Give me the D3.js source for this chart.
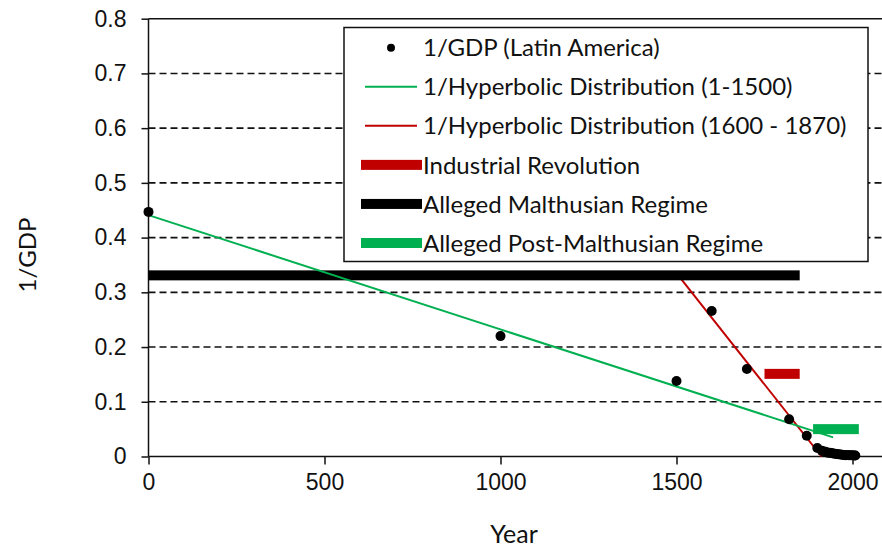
<!DOCTYPE html>
<html>
<head>
<meta charset="utf-8">
<script src="https://cdn.jsdelivr.net/npm/d3@7"></script>
<style>
  body { margin: 0; background: #fff; }
  svg { font-family: Lato, "Open Sans", sans-serif; }
</style>
</head>
<body>
<div id="plot"></div>
<script>
// observed 1/GDP values for Latin America
var years = [0, 1000, 1500, 1600, 1700, 1820, 1870, 1900, 1913, 1920, 1925, 1929, 1935, 1940, 1945, 1950, 1955, 1960, 1965, 1970, 1975, 1980, 1985, 1990, 1995, 2000, 2005, 2008];
var invGdp = [0.447, 0.22, 0.138, 0.266, 0.16, 0.068, 0.038, 0.0155, 0.0105, 0.009, 0.008, 0.007, 0.0068, 0.0062, 0.0055, 0.005, 0.0045, 0.004, 0.0036, 0.0032, 0.0028, 0.0025, 0.0026, 0.0025, 0.0023, 0.0021, 0.0019, 0.0017];

// fitted lines (1/hyperbolic is a straight line)
var greenFitYears = [0, 1945];
var greenFitValues = [0.441, 0.035];
var redFitYears = [1500, 1912];
var redFitValues = [0.335, 0];

// regime bars: [start, end, level]
var industrialRev = [1750, 1850, 0.151];
var malthusian = [0, 1850, 0.331];
var postMalthusian = [1888, 2018, 0.05];

var xTicks = [0, 500, 1000, 1500, 2000];
var yTicks = [0, 0.1, 0.2, 0.3, 0.4, 0.5, 0.6, 0.7, 0.8];

var legendLabels = [
  "1/GDP (Latin America)",
  "1/Hyperbolic Distribution (1-1500)",
  "1/Hyperbolic Distribution (1600 - 1870)",
  "Industrial Revolution",
  "Alleged Malthusian Regime",
  "Alleged Post-Malthusian Regime"
];

var green = "#00b050", red = "#c00000";

var svg = d3.select("#plot").append("svg")
  .attr("width", 882)
  .attr("height", 550);

var x = d3.scaleLinear().domain([0, 2000]).range([148.5, 852.5]);
var y = d3.scaleLinear().domain([0, 0.8]).range([456.5, 18.7]);
var right = 882;

// dashed gridlines
svg.append("g")
  .selectAll("line")
  .data(yTicks.filter(function (d) { return d > 0 && d < 0.8; }))
  .join("line")
  .attr("x1", x(0)).attr("x2", right)
  .attr("y1", d => y(d)).attr("y2", d => y(d))
  .attr("stroke", "#111")
  .attr("stroke-width", 1.6)
  .attr("stroke-dasharray", "7,4");

// top border of plot area
svg.append("line")
  .attr("x1", x(0)).attr("x2", right)
  .attr("y1", y(0.8)).attr("y2", y(0.8))
  .attr("stroke", "#111").attr("stroke-width", 1.5);

// axes
var yAxis = svg.append("g")
  .attr("transform", `translate(${x(0)},0)`)
  .call(d3.axisLeft(y).tickValues(yTicks).tickSize(7).tickPadding(15)
    .tickFormat(d => d === 0 ? "0" : d3.format(".1f")(d)));
var xAxis = svg.append("g")
  .attr("transform", `translate(0,${y(0)})`)
  .call(d3.axisBottom(x).tickValues(xTicks).tickSize(8).tickPadding(9).tickFormat(d3.format("d")));

[yAxis, xAxis].forEach(function (g) {
  g.select(".domain").remove();
  g.selectAll(".tick line").attr("stroke", "#111").attr("stroke-width", 1.5);
  g.selectAll(".tick text").attr("fill", "#111").style("font-size", "23px");
});

svg.append("line")
  .attr("x1", x(0)).attr("x2", x(0))
  .attr("y1", y(0.8)).attr("y2", y(0))
  .attr("stroke", "#111").attr("stroke-width", 1.5);
svg.append("line")
  .attr("x1", x(0)).attr("x2", right)
  .attr("y1", y(0)).attr("y2", y(0))
  .attr("stroke", "#111").attr("stroke-width", 1.5);

// axis titles
svg.append("text")
  .attr("transform", `translate(36,255) rotate(-90)`)
  .attr("text-anchor", "middle")
  .attr("fill", "#111")
  .style("font-size", "24px")
  .text("1/GDP");
svg.append("text")
  .attr("x", 514).attr("y", 543)
  .attr("text-anchor", "middle")
  .attr("fill", "#111")
  .style("font-size", "25px")
  .text("Year");

var line = d3.line().x(d => x(d[0])).y(d => y(d[1]));

// red fit (drawn under the malthusian bar)
svg.append("path")
  .datum(d3.zip(redFitYears, redFitValues))
  .attr("d", line)
  .attr("fill", "none").attr("stroke", red).attr("stroke-width", 2);

// regime bars
var bars = [[industrialRev, red], [malthusian, "#000"], [postMalthusian, green]];
svg.append("g")
  .selectAll("rect")
  .data(bars)
  .join("rect")
  .attr("x", d => x(d[0][0]))
  .attr("width", d => x(d[0][1]) - x(d[0][0]))
  .attr("y", d => y(d[0][2]) - 5)
  .attr("height", 10)
  .attr("fill", d => d[1]);

// green fit
svg.append("path")
  .datum(d3.zip(greenFitYears, greenFitValues))
  .attr("d", line)
  .attr("fill", "none").attr("stroke", green).attr("stroke-width", 2);

// data points
svg.append("g")
  .selectAll("circle")
  .data(d3.zip(years, invGdp))
  .join("circle")
  .attr("cx", d => x(d[0]))
  .attr("cy", d => y(d[1]))
  .attr("r", 5)
  .attr("fill", "#000");

// legend
var lg = svg.append("g");
lg.append("rect")
  .attr("x", 344).attr("y", 27.5)
  .attr("width", 524).attr("height", 234)
  .attr("fill", "#fff").attr("stroke", "#111").attr("stroke-width", 1.5);

var rowY = d3.scaleLinear().domain([0, 5]).range([47.7, 243]);
legendLabels.forEach(function (label, i) {
  var cy = rowY(i);
  if (i === 0) {
    lg.append("circle").attr("cx", 391).attr("cy", cy).attr("r", 4).attr("fill", "#000");
  } else if (i < 3) {
    lg.append("line").attr("x1", 365).attr("x2", 417).attr("y1", cy).attr("y2", cy)
      .attr("stroke", i === 1 ? green : red).attr("stroke-width", 2);
  } else {
    lg.append("rect").attr("x", 361).attr("width", 61).attr("y", cy - 5).attr("height", 10)
      .attr("fill", [red, "#000", green][i - 3]);
  }
  lg.append("text")
    .attr("x", 423).attr("y", cy)
    .attr("dy", "0.36em")
    .attr("fill", "#111")
    .style("font-size", "24px")
    .text(label);
});
</script>
</body>
</html>
